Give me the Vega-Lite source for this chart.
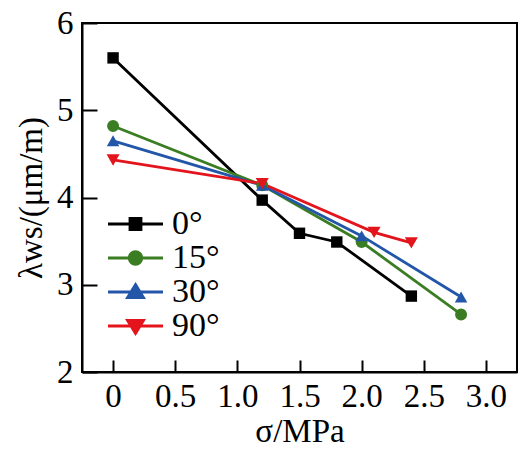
{
  "$schema": "https://vega.github.io/schema/vega-lite/v6.json",
  "width": 435,
  "height": 349,
  "autosize": "none",
  "padding": {"left": 82, "top": 23, "right": 8, "bottom": 78},
  "background": "white",
  "config": {
    "view": {"stroke": "black", "strokeWidth": 2},
    "font": "Liberation Serif, Times New Roman, serif",
    "axis": {
      "grid": false,
      "domainColor": "black",
      "domainWidth": 2,
      "tickColor": "black",
      "tickWidth": 2,
      "labelFont": "Liberation Serif, Times New Roman, serif",
      "labelFontSize": 33,
      "labelColor": "black",
      "titleFont": "Liberation Serif, Times New Roman, serif",
      "titleFontSize": 33,
      "titleFontWeight": "normal",
      "titleColor": "black"
    }
  },
  "data": {
    "values": [
      {"angle": "0°", "x": 0, "y": 5.6},
      {"angle": "0°", "x": 1.2, "y": 3.97},
      {"angle": "0°", "x": 1.5, "y": 3.59},
      {"angle": "0°", "x": 1.8, "y": 3.49},
      {"angle": "0°", "x": 2.4, "y": 2.87},
      {"angle": "15°", "x": 0, "y": 4.82},
      {"angle": "15°", "x": 1.2, "y": 4.14},
      {"angle": "15°", "x": 2.0, "y": 3.49},
      {"angle": "15°", "x": 2.8, "y": 2.66},
      {"angle": "30°", "x": 0, "y": 4.65},
      {"angle": "30°", "x": 1.2, "y": 4.14},
      {"angle": "30°", "x": 2.0, "y": 3.56},
      {"angle": "30°", "x": 2.8, "y": 2.86},
      {"angle": "90°", "x": 0, "y": 4.43},
      {"angle": "90°", "x": 1.2, "y": 4.16},
      {"angle": "90°", "x": 2.1, "y": 3.6},
      {"angle": "90°", "x": 2.4, "y": 3.48}
    ]
  },
  "encoding": {
    "x": {
      "field": "x",
      "type": "quantitative",
      "scale": {"domain": [-0.25, 3.25], "nice": false, "zero": false},
      "axis": {
        "title": "σ/MPa",
        "values": [0, 0.5, 1, 1.5, 2, 2.5, 3],
        "labelExpr": "datum.value == 0 ? '0' : format(datum.value, '.1f')",
        "tickSize": -12,
        "labelPadding": 20,
        "titlePadding": 2,
        "labelFlush": false
      }
    },
    "y": {
      "field": "y",
      "type": "quantitative",
      "scale": {"domain": [2, 6], "nice": false, "zero": false},
      "axis": {
        "title": "λws/(μm/m)",
        "values": [2, 3, 4, 5, 6],
        "tickSize": -15,
        "labelPadding": 24,
        "titlePadding": 8,
        "labelFlush": false
      }
    }
  },
  "layer": [
    {
      "mark": {"type": "line", "strokeWidth": 2.8},
      "encoding": {
        "color": {
          "field": "angle",
          "type": "nominal",
          "scale": {"domain": ["0°", "15°", "30°", "90°"], "range": ["#000000", "#3a7d22", "#2356a8", "#e3141c"]},
          "legend": null
        },
        "order": {"field": "x", "type": "quantitative"}
      }
    },
    {
      "mark": {"type": "point", "filled": true, "opacity": 1},
      "encoding": {
        "color": {
          "field": "angle",
          "type": "nominal",
          "scale": {"domain": ["0°", "15°", "30°", "90°"], "range": ["#000000", "#3a7d22", "#2356a8", "#e3141c"]},
          "legend": null
        },
        "shape": {
          "field": "angle",
          "type": "nominal",
          "scale": {"domain": ["0°", "15°", "30°", "90°"], "range": ["square", "circle", "triangle-up", "triangle-down"]},
          "legend": null
        },
        "size": {
          "field": "angle",
          "type": "nominal",
          "scale": {"domain": ["0°", "15°", "30°", "90°"], "range": [130, 170, 240, 240]},
          "legend": null
        }
      }
    },
    {
      "transform": [{"filter": "datum.x > 100"}],
      "mark": {"type": "point", "filled": true, "opacity": 1, "strokeWidth": 2.8, "size": 961},
      "encoding": {
        "fill": {
          "field": "angle",
          "type": "nominal",
          "scale": {"domain": ["0°", "15°", "30°", "90°"], "range": ["#000000", "#3a7d22", "#2356a8", "#e3141c"]},
          "legend": {
            "title": null,
            "orient": "none",
            "legendX": 26,
            "legendY": 184,
            "labelFont": "Liberation Serif, Times New Roman, serif",
            "labelFontSize": 34,
            "labelColor": "black",
            "symbolSize": 961,
            "symbolStrokeWidth": 2.8,
            "labelOffset": 30,
            "rowPadding": -1.5
          }
        },
        "stroke": {
          "field": "angle",
          "type": "nominal",
          "scale": {"domain": ["0°", "15°", "30°", "90°"], "range": ["#000000", "#3a7d22", "#2356a8", "#e3141c"]},
          "legend": {
            "title": null,
            "orient": "none",
            "legendX": 26,
            "legendY": 184,
            "labelFont": "Liberation Serif, Times New Roman, serif",
            "labelFontSize": 34,
            "labelColor": "black",
            "symbolSize": 961,
            "symbolStrokeWidth": 2.8,
            "labelOffset": 30,
            "rowPadding": -1.5
          }
        },
        "shape": {
          "field": "angle",
          "type": "nominal",
          "scale": {
            "domain": ["0°", "15°", "30°", "90°"],
            "range": [
              "M-1.097,0H2.452M0.322,-0.355H1.032V0.355H0.322Z",
              "M-1.097,0H2.452M1.083,0A0.406,0.406,0,1,1,0.271,0A0.406,0.406,0,1,1,1.083,0Z",
              "M-1.097,0H2.452M0.677,-0.48L1.193,0.355L0.161,0.355Z",
              "M-1.097,0H2.452M0.677,0.48L1.193,-0.355L0.161,-0.355Z"
            ]
          },
          "legend": {
            "title": null,
            "orient": "none",
            "legendX": 26,
            "legendY": 184,
            "labelFont": "Liberation Serif, Times New Roman, serif",
            "labelFontSize": 34,
            "labelColor": "black",
            "symbolSize": 961,
            "symbolStrokeWidth": 2.8,
            "labelOffset": 30,
            "rowPadding": -1.5
          }
        }
      }
    }
  ],
  "resolve": {"scale": {"color": "independent", "shape": "independent", "size": "independent", "fill": "independent", "stroke": "independent"}}
}
